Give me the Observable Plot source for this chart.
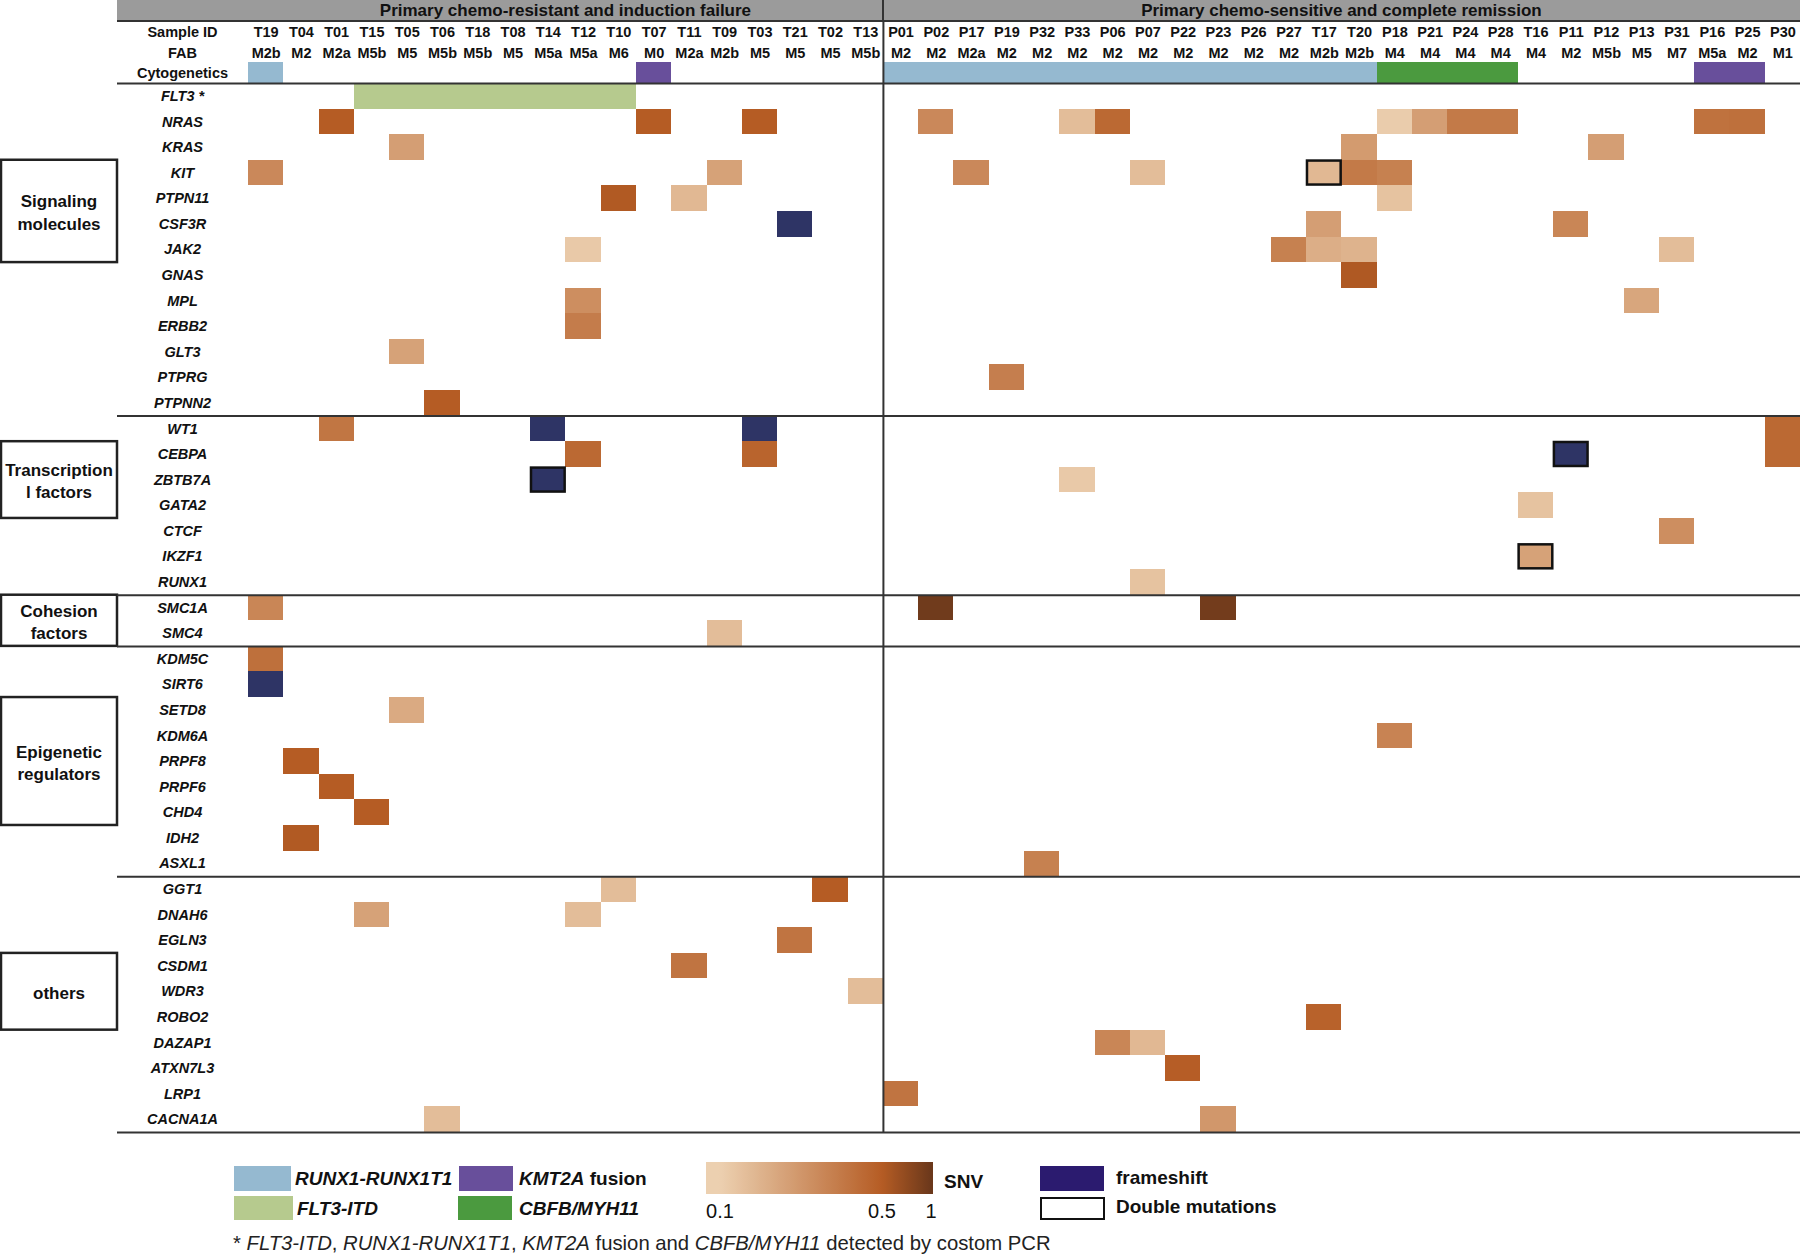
<!DOCTYPE html>
<html>
<head>
<meta charset="utf-8">
<script src="https://cdn.jsdelivr.net/npm/d3@7"></script>
<script src="https://cdn.jsdelivr.net/npm/@observablehq/plot@0.6"></script>
<style>
  body { margin: 0; background: #fff; }
  #page { position: relative; width: 1800px; height: 1256px; overflow: hidden; background: #fff;
          font-family: "Liberation Sans", Arial, Helvetica, sans-serif; color: #111; }
  .abs { position: absolute; white-space: nowrap; }
</style>
</head>
<body>
<div id="page"></div>
<script>
// ---------------- DATA ----------------
const groupTitles = ["Primary chemo-resistant and induction failure", "Primary chemo-sensitive and complete remission"];
const resistantSamples = ["T19","T04","T01","T15","T05","T06","T18","T08","T14","T12","T10","T07","T11","T09","T03","T21","T02","T13"];
const sensitiveSamples = ["P01","P02","P17","P19","P32","P33","P06","P07","P22","P23","P26","P27","T17","T20","P18","P21","P24","P28","T16","P11","P12","P13","P31","P16","P25","P30"];
const fabResistant = ["M2b","M2","M2a","M5b","M5","M5b","M5b","M5","M5a","M5a","M6","M0","M2a","M2b","M5","M5","M5","M5b"];
const fabSensitive = ["M2","M2","M2a","M2","M2","M2","M2","M2","M2","M2","M2","M2","M2b","M2b","M4","M4","M4","M4","M4","M2","M5b","M5","M7","M5a","M2","M1"];

const signalingGenes = ["FLT3","NRAS","KRAS","KIT","PTPN11","CSF3R","JAK2","GNAS","MPL","ERBB2","GLT3","PTPRG","PTPNN2"];
const transcriptionGenes = ["WT1","CEBPA","ZBTB7A","GATA2","CTCF","IKZF1","RUNX1"];
const cohesionGenes = ["SMC1A","SMC4"];
const epigeneticGenes = ["KDM5C","SIRT6","SETD8","KDM6A","PRPF8","PRPF6","CHD4","IDH2","ASXL1"];
const otherGenes = ["GGT1","DNAH6","EGLN3","CSDM1","WDR3","ROBO2","DAZAP1","ATXN7L3","LRP1","CACNA1A"];

const groupLabels = ["Signaling\nmolecules", "Transcription\nl factors", "Cohesion\nfactors", "Epigenetic\nregulators", "others"];
const groupBoxFrom = ["KIT","CEBPA","SMC1A","SETD8","CSDM1"];
const groupBoxTo   = ["JAK2","GATA2","SMC4","CHD4","ROBO2"];

// Cytogenetics (custom PCR)
const runx1Samples = ["T19","P01","P02","P17","P19","P32","P33","P06","P07","P22","P23","P26","P27","T17","T20"];
const kmt2aSamples = ["T07","P16","P25"];
const cbfbSamples = ["P18","P21","P24","P28"];
const flt3itdSamples = ["T15","T05","T06","T18","T08","T14","T12","T10"];

// SNV calls: [gene, sample, VAF]
const snvCalls = [
  ["NRAS","T01",0.50],["NRAS","T07",0.50],["NRAS","T03",0.50],["NRAS","P02",0.27],["NRAS","P33",0.13],["NRAS","P06",0.42],
  ["NRAS","P18",0.105],["NRAS","P21",0.20],["NRAS","P24",0.33],["NRAS","P28",0.33],["NRAS","P16",0.37],["NRAS","P25",0.38],
  ["KRAS","T05",0.20],["KRAS","T20",0.21],["KRAS","P12",0.20],
  ["KIT","T19",0.27],["KIT","T09",0.19],["KIT","P17",0.27],["KIT","P07",0.13],["KIT","T17",0.14],["KIT","T20",0.33],["KIT","P18",0.30],
  ["PTPN11","T10",0.52],["PTPN11","T11",0.14],["PTPN11","P18",0.12],
  ["CSF3R","T17",0.20],["CSF3R","P11",0.28],
  ["JAK2","T12",0.11],["JAK2","P27",0.30],["JAK2","T17",0.16],["JAK2","T20",0.15],["JAK2","P31",0.13],
  ["GNAS","T20",0.53],
  ["MPL","T12",0.25],["MPL","P13",0.18],
  ["ERBB2","T12",0.32],
  ["GLT3","T05",0.19],
  ["PTPRG","P19",0.31],
  ["PTPNN2","T06",0.50],
  ["WT1","T01",0.35],["WT1","P30",0.42],
  ["CEBPA","T12",0.42],["CEBPA","T03",0.45],["CEBPA","P30",0.42],
  ["ZBTB7A","P33",0.11],
  ["GATA2","T16",0.12],
  ["CTCF","P31",0.25],
  ["IKZF1","T16",0.19],
  ["RUNX1","P07",0.12],
  ["SMC1A","T19",0.28],["SMC1A","P02",0.95],["SMC1A","P23",0.93],
  ["SMC4","T09",0.13],
  ["KDM5C","T19",0.38],
  ["SETD8","T05",0.17],
  ["KDM6A","P18",0.29],
  ["PRPF8","T04",0.50],
  ["PRPF6","T01",0.50],
  ["CHD4","T15",0.50],
  ["IDH2","T04",0.52],
  ["ASXL1","P32",0.30],
  ["GGT1","T10",0.13],["GGT1","T02",0.50],
  ["DNAH6","T15",0.19],["DNAH6","T12",0.13],
  ["EGLN3","T21",0.36],
  ["CSDM1","T11",0.36],
  ["WDR3","T13",0.13],
  ["ROBO2","T17",0.46],
  ["DAZAP1","P06",0.28],["DAZAP1","P07",0.14],
  ["ATXN7L3","P22",0.49],
  ["LRP1","P01",0.36],
  ["CACNA1A","T06",0.13],["CACNA1A","P23",0.22]
];
const frameshiftCalls = [["CSF3R","T21"],["WT1","T14"],["WT1","T03"],["CEBPA","P11"],["ZBTB7A","T14"],["SIRT6","T19"]];
const doubleCalls = [["KIT","T17"],["CEBPA","P11"],["ZBTB7A","T14"],["IKZF1","T16"]];

const vafDomain = [0.1, 0.5, 1];
const vafTicks = [0.1, 0.5, 1];

// ---------------- STYLE ----------------
const FONT = '"Liberation Sans", Arial, Helvetica, sans-serif';
const snvRange = ["#ecd0b0", "#b55c24", "#6b381b"];
const C = {
  bar: "#9b9b9b", line: "#333", runx1: "#95b9d0", flt3: "#b6ca8e", kmt2a: "#684f9b", cbfb: "#4b9a3f",
  frameshift: "#2e3465", frameshiftLegend: "#2b1b6f"
};

// ---------------- LAYOUT ----------------
const samples = [...resistantSamples, ...sensitiveSamples];
const fabAll = [...fabResistant, ...fabSensitive];
const fabOf = new Map(samples.map((s, i) => [s, fabAll[i]]));
const genes = [...signalingGenes, ...transcriptionGenes, ...cohesionGenes, ...epigeneticGenes, ...otherGenes];
const CYTO = "Cytogenetics";
const SVG_TOP = 22, SVG_H = 1116, W = 1800;
const gridLeft = 248, gridTop = 83 - SVG_TOP, gridBottom = 1132 - SVG_TOP, labelCenter = 182, boxRight = 117;
const rowH = (gridBottom - gridTop) / genes.length;
const colW = (W - gridLeft) / samples.length;

const snv = snvCalls.map(([gene, sample, vaf]) => ({gene, sample, vaf}));
const fs = frameshiftCalls.map(([gene, sample]) => ({gene, sample}));
const dbl = doubleCalls.map(([gene, sample]) => ({gene, sample}));
const groupFirstGenes = [signalingGenes[0], transcriptionGenes[0], cohesionGenes[0], epigeneticGenes[0], otherGenes[0]];

const txt = {fill: "#111", fontFamily: FONT};
const leftLabel = {frameAnchor: "left", dx: labelCenter, textAnchor: "middle", fontSize: 14.5, fontWeight: "bold", ...txt};

const cytoMark = (list, color) =>
  Plot.cell(list, {x: d => d, y: () => CYTO, fill: color, insetTop: 4.6, shapeRendering: "crispEdges"});

const groupTextMarks = groupLabels.map((label, k) => {
  const i1 = genes.indexOf(groupBoxFrom[k]), i2 = genes.indexOf(groupBoxTo[k]);
  const mid = (i1 + i2) / 2, base = Math.floor(mid);
  return Plot.text([label], {
    y: () => genes[base], frameAnchor: "left", dx: boxRight / 2, dy: (mid - base) * rowH,
    text: d => d, textAnchor: "middle", fontSize: 17, fontWeight: "bold", lineHeight: 1.3, ...txt
  });
});

const svg = Plot.plot({
  width: W, height: SVG_H,
  marginTop: gridTop - rowH, marginBottom: SVG_H - gridBottom, marginLeft: 0, marginRight: 0,
  style: {position: "absolute", left: "0px", top: SVG_TOP + "px", fontFamily: FONT, background: "transparent", overflow: "visible"},
  x: {type: "band", domain: samples, range: [gridLeft, W], padding: 0, round: false, axis: null},
  y: {type: "band", domain: [CYTO, ...genes], range: [gridTop - rowH, gridBottom], padding: 0, round: false, axis: null},
  color: {type: "log", domain: vafDomain, range: snvRange, interpolate: "rgb", clamp: true},
  marks: [
    // group boxes (left)
    Plot.rect(groupLabels.map((l, k) => ({from: groupBoxFrom[k], to: groupBoxTo[k]})),
      {y1: "from", y2: "to", insetLeft: 1, insetRight: W - boxRight, fill: "white", stroke: "#222", strokeWidth: 2.5}),
    ...groupTextMarks,
    // header texts
    Plot.text(samples, {x: d => d, y: () => CYTO, dy: -38.2, text: d => d, fontSize: 14.5, fontWeight: "bold", ...txt}),
    Plot.text(samples, {x: d => d, y: () => CYTO, dy: -17.2, text: d => fabOf.get(d), fontSize: 14.5, fontWeight: "bold", ...txt}),
    Plot.text(["Sample ID"], {y: () => CYTO, dy: -38.2, text: d => d, ...leftLabel}),
    Plot.text(["FAB"], {y: () => CYTO, dy: -17.2, text: d => d, ...leftLabel}),
    Plot.text([CYTO], {y: d => d, dy: 2.5, text: d => d, ...leftLabel}),
    // gene labels
    Plot.text(genes, {y: d => d, text: d => d === "FLT3" ? "FLT3 *" : d, ...leftLabel, fontStyle: "italic"}),
    // cytogenetics + FLT3-ITD
    cytoMark(runx1Samples, C.runx1),
    cytoMark(kmt2aSamples, C.kmt2a),
    cytoMark(cbfbSamples, C.cbfb),
    Plot.cell(flt3itdSamples, {x: d => d, y: () => "FLT3", fill: C.flt3, shapeRendering: "crispEdges"}),
    // mutations
    Plot.cell(snv, {x: "sample", y: "gene", fill: "vaf", inset: 0, shapeRendering: "crispEdges"}),
    Plot.cell(fs, {x: "sample", y: "gene", fill: C.frameshift, inset: 0, shapeRendering: "crispEdges"}),
    Plot.cell(dbl, {x: "sample", y: "gene", fill: "none", stroke: "#111", strokeWidth: 2.5, inset: 0.8}),
    // separators
    Plot.ruleY(groupFirstGenes, {y: d => d, dy: -rowH / 2, insetLeft: boxRight, stroke: C.line, strokeWidth: 2}),
    Plot.ruleY([genes[genes.length - 1]], {y: d => d, dy: rowH / 2, insetLeft: boxRight, stroke: C.line, strokeWidth: 2}),
    Plot.ruleX([sensitiveSamples[0]], {x: d => d, dx: -colW / 2, insetTop: -(gridTop - rowH), stroke: C.line, strokeWidth: 2})
  ]
});

const page = document.getElementById("page");
page.appendChild(svg);

// ---------------- HEADER BAR ----------------
const xs = svg.scale("x");
const bw = xs.bandwidth;
function addDiv(style, html = "") {
  const el = document.createElement("div");
  el.className = "abs";
  Object.assign(el.style, style);
  el.innerHTML = html;
  page.appendChild(el);
  return el;
}
addDiv({left: boxRight + "px", top: "0px", width: (W - boxRight) + "px", height: "20px", background: C.bar, borderBottom: "2px solid " + C.line});
const divX = xs.apply(sensitiveSamples[0]);
addDiv({left: (divX - 1) + "px", top: "0px", width: "2px", height: "22px", background: C.line});
const groupsX = [resistantSamples, sensitiveSamples].map(g => (xs.apply(g[0]) + xs.apply(g[g.length - 1]) + bw) / 2);
groupTitles.forEach((t, i) => {
  addDiv({left: groupsX[i] + "px", top: "0px", height: "20px", lineHeight: "22px", transform: "translateX(-50%)",
          fontSize: "17px", fontWeight: "bold", color: "#111"}, t);
});

// ---------------- LEGEND ----------------
function addLabel(x, yc, html, style = {}, anchor = "start") {
  const el = addDiv({left: x + "px", top: (yc - 15) + "px", height: "30px", lineHeight: "30px", color: "#111", ...style}, html);
  if (anchor === "middle") el.style.transform = "translateX(-50%)";
  return el;
}
function swatch(x1, y1, x2, y2, style) {
  return addDiv({left: x1 + "px", top: y1 + "px", width: (x2 - x1) + "px", height: (y2 - y1) + "px", boxSizing: "border-box", ...style});
}
const boldItalic = {fontSize: "19px", fontWeight: "bold", fontStyle: "italic"};
swatch(234, 1166, 291, 1191, {background: C.runx1});
addLabel(295, 1179, "RUNX1-RUNX1T1", boldItalic);
swatch(234, 1196, 293, 1220, {background: C.flt3});
addLabel(297, 1209, "FLT3-ITD", boldItalic);
swatch(459, 1166, 513, 1191, {background: C.kmt2a});
addLabel(519, 1179, "<i>KMT2A</i> fusion", {fontSize: "19px", fontWeight: "bold"});
swatch(458, 1196, 512, 1220, {background: C.cbfb});
addLabel(519, 1209, "CBFB/MYH11", boldItalic);

// SNV gradient
const colorOf = d3.scaleLog().domain(vafDomain).range(snvRange).interpolate(d3.interpolateRgb).clamp(true);
const legendX = d3.scaleLog().domain(vafTicks).range([720, 882, 931]);
const gx1 = 706, gx2 = 933;
const stops = d3.range(gx1, gx2 + 1, 3).map(p => {
  const v = Math.max(0.1, Math.min(1, legendX.invert(p)));
  return `${colorOf(v)} ${((p - gx1) / (gx2 - gx1) * 100).toFixed(2)}%`;
});
swatch(gx1, 1162, gx2, 1194, {background: `linear-gradient(to right, ${stops.join(",")})`});
vafTicks.forEach(v => addLabel(legendX(v), 1211, String(v), {fontSize: "20px"}, "middle"));
addLabel(944, 1182, "SNV", {fontSize: "19px", fontWeight: "bold"});

swatch(1040, 1166, 1104, 1191, {background: C.frameshiftLegend});
addLabel(1116, 1178, "frameshift", {fontSize: "19px", fontWeight: "bold"});
swatch(1040, 1197, 1105, 1220, {border: "2px solid #111", background: "#fff"});
addLabel(1116, 1207, "Double mutations", {fontSize: "19px", fontWeight: "bold"});

addLabel(233, 1243, "* <i>FLT3-ITD</i>, <i>RUNX1-RUNX1T1</i>, <i>KMT2A</i> fusion and <i>CBFB/MYH11</i> detected by costom PCR",
  {fontSize: "20.3px", color: "#222"});
</script>
</body>
</html>
